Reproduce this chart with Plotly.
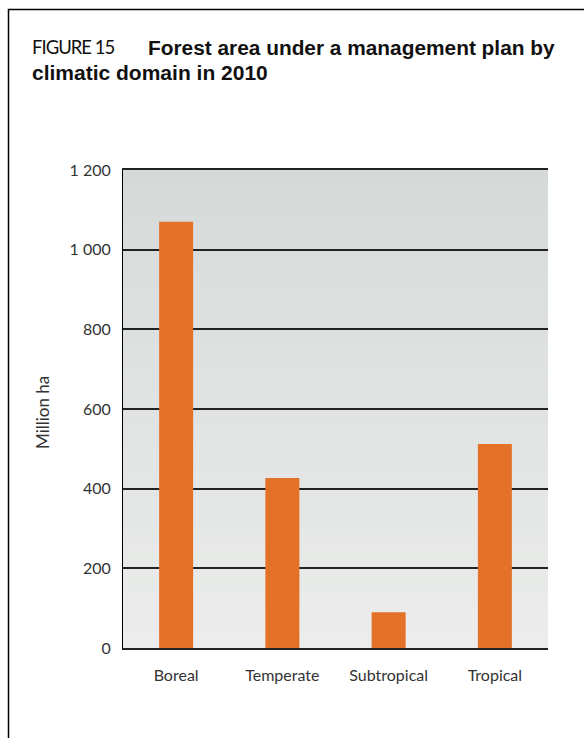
import plotly.graph_objects as go

categories = ["Boreal", "Temperate", "Subtropical", "Tropical"]
values = [1070, 427, 90, 512]
y_ticks = [0, 200, 400, 600, 800, 1000, 1200]
y_tick_labels = ["0", "200", "400", "600", "800", "1 000", "1 200"]

W, H = 584, 738
L, R, T, B = 123, 36, 170, 90
PW, PH = W - L - R, H - T - B

def px(x):
    return (x - L) / PW

def py(y):
    return (H - B - y) / PH

fig = go.Figure()
fig.add_trace(go.Bar(
    x=categories, y=values, marker=dict(color="#e37228", line=dict(width=0)),
    hoverinfo="skip",
))

shapes = []
n = 60
top = (0xd5, 0xda, 0xd8)
bot = (0xeb, 0xec, 0xeb)
for i in range(n):
    t = i / (n - 1)
    c = tuple(round(top[k] + (bot[k] - top[k]) * t) for k in range(3))
    shapes.append(dict(type="rect", xref="paper", yref="paper",
                       x0=0, x1=1, y0=1 - (i + 1) / n, y1=1 - i / n + 0.002,
                       fillcolor="rgb(%d,%d,%d)" % c, line=dict(width=0), layer="below"))
shapes.append(dict(type="path", xref="paper", yref="paper",
                   path="M %f,%f L %f,%f L %f,%f" % (px(8.5), py(745), px(8.5), py(9.5), px(600), py(9.5)),
                   line=dict(color="#000", width=1.5)))

font_main = "Liberation Sans, Arial, sans-serif"
font_light = "Lato, Liberation Sans, sans-serif"

fig.update_layout(
    width=W, height=H,
    margin=dict(l=L, r=R, t=T, b=B),
    paper_bgcolor="white", plot_bgcolor="#e2e4e3",
    showlegend=False,
    bargap=0.68,
    shapes=shapes,
    font=dict(family=font_main, color="#333"),
    xaxis=dict(showline=True, mirror=True, linecolor="#222", linewidth=1.5,
               ticks="", tickfont=dict(size=16, color="#333", family=font_light),
               showgrid=False, ticklabelstandoff=12, fixedrange=True),
    yaxis=dict(range=[0, 1200], tickvals=y_ticks, ticktext=y_tick_labels,
               showgrid=True, gridcolor="#222", gridwidth=1.5,
               showline=True, linecolor="#000", linewidth=1,
               zeroline=False, ticks="", tickfont=dict(size=16, color="#333", family=font_light),
               ticklabelstandoff=8, fixedrange=True),
    annotations=[
        dict(xref="paper", yref="paper", x=px(30), y=py(47), xanchor="left", yanchor="middle",
             showarrow=False, align="left",
             text="<span style=\"letter-spacing:-1px\">FIGURE 15</span>",
             font=dict(size=18.5, color="#111", family=font_light)),
        dict(xref="paper", yref="paper", x=px(145.5), y=py(47), xanchor="left", yanchor="middle",
             showarrow=False, align="left",
             text="<b>Forest area under a management plan by</b>",
             font=dict(size=20.85, color="#111", family=font_main)),
        dict(xref="paper", yref="paper", x=px(29.5), y=py(73), xanchor="left", yanchor="middle",
             showarrow=False, align="left",
             text="<b>climatic domain in 2010</b>",
             font=dict(size=21, color="#111", family=font_main)),
        dict(xref="paper", yref="paper", x=px(42), y=py(413), xanchor="center", yanchor="middle",
             showarrow=False, textangle=-90, text="Million ha",
             font=dict(size=17, color="#333", family=font_light)),
    ],
)

fig.write_html("out.html", config={"displayModeBar": False},
               post_script="document.body.style.margin='0';document.body.style.padding='0';")
